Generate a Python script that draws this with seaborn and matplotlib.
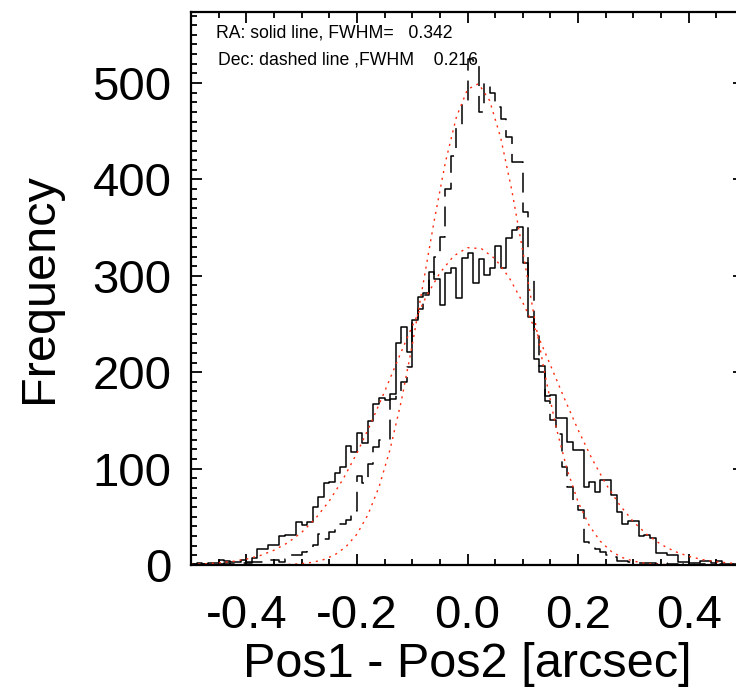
import numpy as np
import pandas as pd
import matplotlib
matplotlib.use("Agg")
import matplotlib.pyplot as plt
from matplotlib.ticker import MultipleLocator
import seaborn as sns

# ---- data ----
bin_edges_lo = -0.5
bin_width = 0.01
ra_counts = [1, 2, 1, 2, 2, 5, 4, 3, 3, 5,
             3, 7, 17, 17, 21, 21, 30, 31, 31, 45,
             42, 45, 60, 71, 85, 86, 95, 102, 123, 117,
             137, 127, 149, 167, 173, 171, 177, 230, 247, 221,
             254, 278, 282, 304, 297, 270, 303, 308, 277, 319,
             324, 293, 317, 301, 308, 331, 308, 339, 348, 351,
             313, 257, 214, 206, 175, 176, 152, 153, 128, 119,
             119, 81, 86, 76, 88, 88, 73, 55, 43, 46,
             46, 30, 31, 28, 12, 12, 10, 10, 3, 3,
             2, 2, 4, 4, 2, 4, 1, 1, 0, 1]
dec_counts = [1, 0, 1, 1, 0, 1, 2, 1, 1, 2,
              2, 3, 3, 4, 5, 5, 3, 6, 10, 10,
              13, 16, 21, 32, 27, 34, 40, 43, 47, 56,
              92, 85, 105, 122, 130, 130, 172, 178, 190, 205,
              254, 266, 280, 300, 320, 340, 390, 424, 456, 480,
              525, 523, 470, 500, 490, 475, 463, 444, 418, 418,
              366, 300, 240, 200, 170, 150, 136, 102, 81, 62,
              57, 24, 20, 17, 13, 10, 8, 4, 4, 3,
              3, 2, 2, 2, 1, 2, 1, 1, 0, 1,
              1, 0, 1, 0, 0, 1, 0, 0, 1, 0]

ra_fit_x = [-0.5, -0.475, -0.45, -0.425, -0.4, -0.375, -0.35, -0.325, -0.3, -0.275,
            -0.25, -0.225, -0.2, -0.175, -0.15, -0.125, -0.1, -0.075, -0.05, -0.025,
            0.0, 0.025, 0.05, 0.075, 0.1, 0.125, 0.15, 0.175, 0.2, 0.225,
            0.25, 0.275, 0.3, 0.325, 0.35, 0.375, 0.4, 0.425, 0.45, 0.475, 0.5]
ra_fit_y = [0.7, 1.2, 2.2, 3.7, 6.1, 9.8, 15.3, 23.1, 33.8, 48.1,
            66.4, 89.1, 116.0, 146.6, 179.8, 214.2, 247.7, 278.1, 303.0, 320.6,
            329.2, 328.2, 317.7, 298.5, 272.3, 241.2, 207.3, 173.0, 140.2, 110.3,
            84.2, 62.4, 44.9, 31.4, 21.3, 14.0, 9.0, 5.6, 3.3, 2.0, 1.1]

dec_fit_x = [-0.5, -0.48, -0.46, -0.44, -0.42, -0.4, -0.38, -0.36, -0.34, -0.32,
             -0.3, -0.28, -0.26, -0.24, -0.22, -0.2, -0.18, -0.16, -0.14, -0.12,
             -0.1, -0.08, -0.06, -0.04, -0.02, 0.0, 0.02, 0.04, 0.06, 0.08,
             0.1, 0.12, 0.14, 0.16, 0.18, 0.2, 0.22, 0.24, 0.26, 0.28,
             0.3, 0.32, 0.34, 0.36, 0.38, 0.4, 0.42, 0.44, 0.46, 0.48, 0.5]
dec_fit_y = [0.0, 0.0, 0.0, 0.0, 0.0, 0.02, 0.05, 0.12, 0.28, 0.6,
             1.4, 2.8, 5.6, 10.5, 18.8, 32.0, 52.2, 81.0, 119.9, 169.3,
             227.9, 292.5, 357.9, 417.7, 464.9, 493.4, 499.3, 481.8, 443.3, 389.0,
             325.5, 259.7, 197.6, 143.4, 99.2, 65.4, 41.1, 24.7, 14.1, 7.7,
             4.0, 2.0, 0.9, 0.4, 0.2, 0.1, 0.0, 0.0, 0.0, 0.0, 0.0]

x_ticks = [-0.4, -0.2, 0.0, 0.2, 0.4]
x_tick_labels = ["-0.4", "-0.2", "0.0", "0.2", "0.4"]
y_ticks = [0, 100, 200, 300, 400, 500]
x_label = "Pos1 - Pos2 [arcsec]"
y_label = "Frequency"
ra_text = "RA: solid line, FWHM=   0.342"
dec_text = "Dec: dashed line ,FWHM    0.216"

# ---- build tables ----
n = len(ra_counts)
edges = [bin_edges_lo + bin_width * i for i in range(n + 1)]
centers = [bin_edges_lo + bin_width * (i + 0.5) for i in range(n)]
df = pd.DataFrame({"x": centers, "ra": ra_counts, "dec": dec_counts})
fit_ra = pd.DataFrame({"x": ra_fit_x, "y": ra_fit_y})
fit_dec = pd.DataFrame({"x": dec_fit_x, "y": dec_fit_y})

sns.set_theme(style="ticks")
plt.rcParams["font.family"] = ["Liberation Sans", "DejaVu Sans"]
plt.rcParams["text.color"] = "black"
plt.rcParams["axes.labelcolor"] = "black"
plt.rcParams["xtick.color"] = "black"
plt.rcParams["ytick.color"] = "black"

W, H = 736, 692
fig = plt.figure(figsize=(W / 100, H / 100), dpi=100)
ax = fig.add_axes([191 / W, 1 - 565 / H, (744 - 191) / W, (565 - 11.7) / H])

sns.histplot(data=df, x="x", weights="ra", bins=edges, element="step", fill=False,
             color="black", linewidth=1.1, ax=ax)
sns.histplot(data=df, x="x", weights="dec", bins=edges, element="step", fill=False,
             color="black", linewidth=1.1, linestyle=(0, (13, 6.5)), ax=ax)
sns.lineplot(data=fit_ra, x="x", y="y", color="#ff2a10", linewidth=1.0,
             linestyle=(0, (1.5, 3.5)), ax=ax)
sns.lineplot(data=fit_dec, x="x", y="y", color="#ff2a10", linewidth=1.0,
             linestyle=(0, (1.5, 3.5)), ax=ax)

ax.set_xlim(-0.5, 0.5)
ax.set_ylim(0, 574)
ax.set_xticks(x_ticks)
ax.set_xticklabels(x_tick_labels)
ax.set_yticks(y_ticks)
ax.xaxis.set_minor_locator(MultipleLocator(0.05))
ax.yaxis.set_minor_locator(MultipleLocator(10))
ax.tick_params(which="both", direction="in", top=True, right=True,
               color="black", labelcolor="black", width=1.3)
ax.tick_params(which="major", length=8, labelsize=34, pad=14)
ax.tick_params(which="minor", length=4)
ax.tick_params(axis="x", which="major", pad=21)
for s in ax.spines.values():
    s.set_linewidth(1.6)
    s.set_color("black")
ax.set_xlabel(x_label, fontsize=35, labelpad=3, color="black")
ax.set_ylabel(y_label, fontsize=35, labelpad=22, color="black")
ax.grid(False)

fig.text(216 / W, 1 - 32.5 / H, ra_text, fontsize=12.7, va="center", ha="left",
         color="black")
fig.text(218 / W, 1 - 60 / H, dec_text, fontsize=12.7, va="center", ha="left",
         color="black")

fig.savefig("out.png", dpi=100)
